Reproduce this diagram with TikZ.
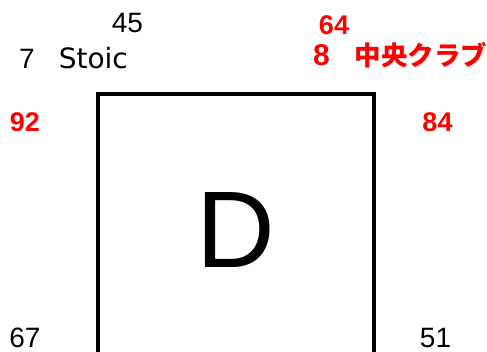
\documentclass[tikz,border=0pt]{standalone}
\usepackage{fontspec}
\setmainfont{Liberation Sans}
\newfontfamily\gfont{DejaVu Sans}
\newfontfamily\jpfont{Noto Sans CJK JP}
\usetikzlibrary{positioning}
\usepackage{xcolor}
\definecolor{ClubRed}{RGB}{255,0,0}
\tikzset{
  blab/.style={inner sep=0pt,font=\fontsize{28}{30}\selectfont},
  rlab/.style={inner sep=0pt,text=ClubRed,font=\bfseries\fontsize{27}{30}\selectfont},
  court/.style={draw,line width=3.5pt,minimum width=276pt,minimum height=272pt,
                inner sep=0pt,font=\fontsize{109}{110}\selectfont},
}

\begin{document}
\begin{tikzpicture}[x=1pt,y=-1pt]
  \useasboundingbox (0,0) rectangle (487,352);
  \clip (0,0) rectangle (487,352);
  \node[court] (dcourt) at (236,230) {D};
  % home side
  \node[blab] (hscore) at (127.5,23) {45};
  \node[blab,anchor=base west] (hteam) at (19,69) {7\hspace{24pt}{\gfont Stoic}};
  \node[rlab] (hleft) at (25,122) {92};
  \node[blab] (hlow) at (25,338) {67};
  % away side
  \node[rlab] (ascore) at (334,25) {64};
  \node[rlab,anchor=base west] (ateam) at (313,66)
    {\fontsize{30}{30}\selectfont 8\hspace{25pt}{\jpfont\fontsize{26.5}{30}\selectfont 中央クラブ}};
  \node[rlab] (aright) at (437.5,122) {84};
  \node[blab] (alow) at (435.5,338) {51};
\end{tikzpicture}
\end{document}
